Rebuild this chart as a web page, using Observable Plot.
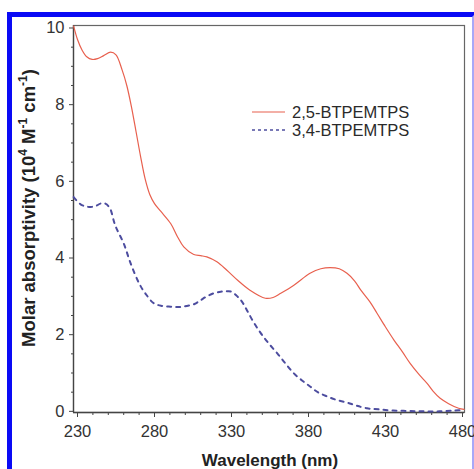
<!DOCTYPE html>
<html>
<head>
<meta charset="utf-8">
<script src="https://cdn.jsdelivr.net/npm/d3@7"></script>
<script src="https://cdn.jsdelivr.net/npm/@observablehq/plot@0.6"></script>
<style>
  html, body { margin: 0; padding: 0; background: #fff; overflow: hidden; width: 474px; height: 469px; }
  #frame { position: absolute; left: 7px; top: 12px; width: 460px; height: 480px; border: 5px solid #0a0af5; border-right-color: #a8a8f8; box-sizing: content-box; }
  #chart { position: absolute; left: 0; top: 0; }
  #legend { position: absolute; left: 252px; top: 103px; font-family: "Liberation Sans", Arial, sans-serif; font-size: 16.5px; color: #2a2a2a; line-height: 18px; }
  #legend div { display: flex; align-items: center; height: 18px; }
  #legend svg { margin-right: 4px; }
</style>
</head>
<body>
<div id="frame"></div>
<div id="chart"></div>
<div id="legend"></div>
<script>
// ---- data ----
const seriesNames = ["2,5-BTPEMTPS", "3,4-BTPEMTPS"];
const nm25 = [227.5, 230, 233, 236, 239.5, 243, 247, 251.5, 255, 259, 262, 265, 268, 271, 274, 277, 280, 284, 290.5, 295, 299, 305.5, 310, 314, 320.5, 327, 334, 342, 352, 357, 362, 370.5, 381, 388, 394, 400, 405, 410, 414, 420, 424.5, 430, 435.5, 441, 446, 452, 457, 461, 465.5, 471, 477.5, 481];
const abs25 = [10.05, 9.7, 9.42, 9.25, 9.18, 9.2, 9.28, 9.37, 9.3, 8.9, 8.5, 7.95, 7.3, 6.64, 6.05, 5.65, 5.42, 5.22, 4.9, 4.55, 4.29, 4.09, 4.06, 4.03, 3.9, 3.68, 3.42, 3.16, 2.95, 2.97, 3.08, 3.29, 3.6, 3.72, 3.75, 3.72, 3.6, 3.4, 3.16, 2.85, 2.56, 2.2, 1.86, 1.55, 1.25, 0.95, 0.73, 0.52, 0.34, 0.2, 0.08, 0.05];
const nm34 = [227.5, 232, 235, 238.5, 242, 245, 248, 251, 254.5, 260, 264.5, 270, 274, 279.5, 285, 290.5, 296, 301, 306, 310, 314, 318.5, 323, 327, 330, 334, 337, 340, 344, 349, 354, 360, 365, 370.5, 376, 381, 386, 392, 398, 405, 411, 418, 426, 435, 445, 455, 465, 475, 481];
const abs34 = [5.59, 5.4, 5.35, 5.33, 5.36, 5.42, 5.42, 5.3, 4.85, 4.38, 3.86, 3.34, 3.08, 2.82, 2.75, 2.73, 2.72, 2.75, 2.8, 2.9, 3.0, 3.08, 3.12, 3.13, 3.12, 2.99, 2.85, 2.64, 2.35, 2.04, 1.78, 1.5, 1.25, 0.99, 0.8, 0.65, 0.5, 0.39, 0.3, 0.23, 0.15, 0.08, 0.05, 0.02, 0.01, 0.0, 0.0, 0.02, 0.04];
const xMajor = [230, 280, 330, 380, 430, 480];
const xMinor = [240, 250, 260, 270, 290, 300, 310, 320, 340, 350, 360, 370, 390, 400, 410, 420, 440, 450, 460, 470];
const yMajor = [0, 2, 4, 6, 8, 10];
const yMinor = [0.5, 1, 1.5, 2.5, 3, 3.5, 4.5, 5, 5.5, 6.5, 7, 7.5, 8.5, 9, 9.5];
const xLabel = "Wavelength (nm)";

const colors = ["#e8604e", "#4d4d9f"];
const d25 = nm25.map((x, i) => ({x, y: abs25[i]}));
const d34 = nm34.map((x, i) => ({x, y: abs34[i]}));

const font = '"Liberation Sans", Arial, sans-serif';
const plot = Plot.plot({
  width: 474, height: 469,
  marginLeft: 73, marginRight: 10, marginTop: 25, marginBottom: 57,
  style: {background: "transparent", fontFamily: font, fontSize: "16px", color: "#333"},
  x: {domain: [227.4, 481.3]},
  y: {domain: [-0.03, 10.065]},
  marks: [
    Plot.frame({stroke: "#666", strokeWidth: 1.2}),
    Plot.axisX({ticks: xMinor, tickSize: 3, text: null, label: null, stroke: "#444"}),
    Plot.axisX({ticks: xMajor, tickSize: 5, tickPadding: 8, label: null, stroke: "#444", fill: "#333", fontSize: 16.5, tickFormat: d => String(d)}),
    Plot.axisY({ticks: yMinor, tickSize: 2, text: null, label: null, stroke: "#444"}),
    Plot.axisY({ticks: yMajor, tickSize: 4, tickPadding: 5, label: null, stroke: "#444", fill: "#333", fontSize: 16.5, tickFormat: d => String(d)}),
    Plot.ruleX([227.4], {stroke: "#444", strokeWidth: 1.3}),
    Plot.ruleY([-0.03], {stroke: "#444", strokeWidth: 1.3}),
    Plot.line(d34, {x: "x", y: "y", stroke: colors[1], strokeWidth: 2, strokeDasharray: "4,5", curve: "catmull-rom"}),
    Plot.line(d25, {x: "x", y: "y", stroke: colors[0], strokeWidth: 1.2, curve: "catmull-rom"})
  ]
});
document.getElementById("chart").appendChild(plot);

// axis titles as real text
const svg = d3.select(plot);
svg.append("text")
  .attr("x", 270).attr("y", 466)
  .attr("text-anchor", "middle")
  .attr("font-family", font).attr("font-weight", "bold").attr("font-size", 17).attr("fill", "#222")
  .text(xLabel);
const yl = svg.append("text")
  .attr("transform", "translate(35,208) rotate(-90)")
  .attr("text-anchor", "middle")
  .attr("font-family", font).attr("font-weight", "bold").attr("font-size", 18.5).attr("fill", "#222");
yl.append("tspan").text("Molar absorptivity (10");
yl.append("tspan").attr("font-size", 12).attr("dy", -8).text("4");
yl.append("tspan").attr("dy", 8).text(" M");
yl.append("tspan").attr("font-size", 12).attr("dy", -8).text("-1");
yl.append("tspan").attr("dy", 8).text(" cm");
yl.append("tspan").attr("font-size", 12).attr("dy", -8).text("-1");
yl.append("tspan").attr("dy", 8).text(")");

// legend
const leg = d3.select("#legend");
seriesNames.forEach((name, i) => {
  const row = leg.append("div");
  const s = row.append("svg").attr("width", 36).attr("height", 6);
  s.append("line").attr("x1", 0).attr("x2", i === 0 ? 33 : 36).attr("y1", 3).attr("y2", 3)
    .attr("stroke", colors[i]).attr("stroke-width", i === 0 ? 1.2 : 1.6)
    .attr("stroke-dasharray", i === 0 ? null : "3,3");
  row.append("span").text(name);
});
</script>
</body>
</html>
